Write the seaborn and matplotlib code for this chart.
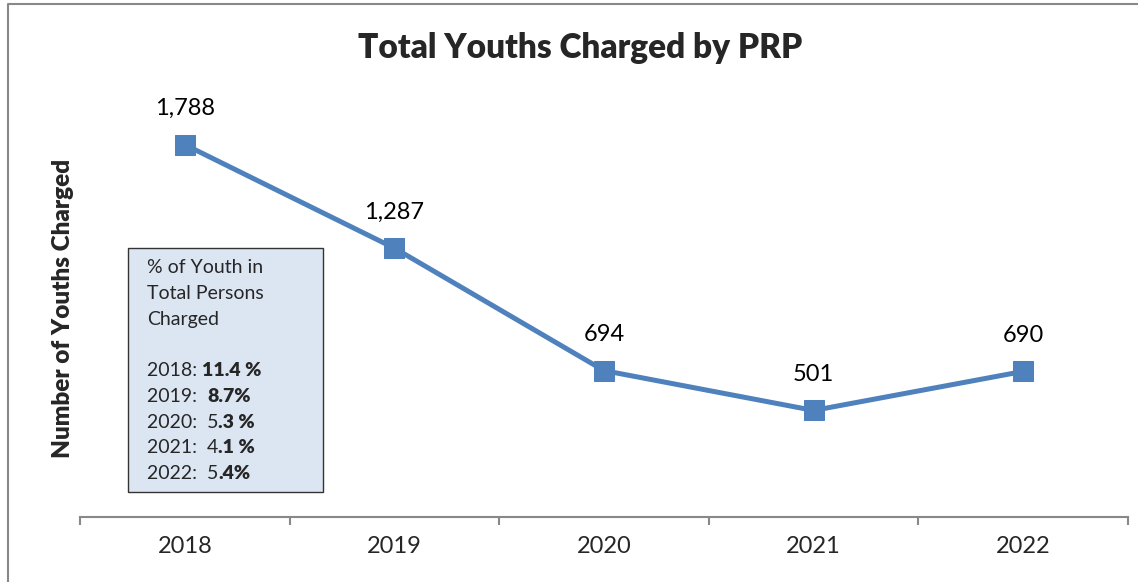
import matplotlib
matplotlib.use("Agg")
import matplotlib.pyplot as plt
import matplotlib.patches as patches
from matplotlib.lines import Line2D
from matplotlib.text import Annotation
from matplotlib.ticker import FixedLocator
import seaborn as sns
import pandas as pd

years = ["2018", "2019", "2020", "2021", "2022"]
youths_charged = [1788, 1287, 694, 501, 690]
label_texts = ["1,788", "1,287", "694", "501", "690"]

box_header = ["% of Youth in", "Total Persons", "Charged"]
box_years = ["2018: ", "2019:  ", "2020:  ", "2021:  ", "2022:  "]
box_plain = ["", "", "5", "4", "5"]
box_bold = ["11.4 %", "8.7%", ".3 %", ".1 %", ".4%"]

sns.set_style("white")
plt.rcParams["font.family"] = ["Lato", "DejaVu Sans"]

df = pd.DataFrame({"year": years, "count": youths_charged})

fig = plt.figure(figsize=(11.38, 5.82), dpi=100)
ax = fig.add_axes([80 / 1138, 65 / 582, 1048 / 1138, 413 / 582])

blue = "#4F81BD"
sns.lineplot(data=df, x="year", y="count", ax=ax, color=blue, linewidth=3.6,
             marker="s", markersize=14, markeredgecolor=blue, sort=False)

for i, (v, t) in enumerate(zip(youths_charged, label_texts)):
    ax.annotate(t, (i, v), xytext=(0, 26), textcoords="offset points",
                ha="center", va="center", fontsize=17, color="black")

ax.set_xlim(-0.5, 4.5)
ax.set_ylim(-15, 1985)
ax.set_yticks([])
ax.set_xlabel("")
ax.set_ylabel("")
for s in ["top", "right", "left"]:
    ax.spines[s].set_visible(False)
ax.spines["bottom"].set_color("#888888")
ax.spines["bottom"].set_linewidth(1.5)
ax.tick_params(axis="x", which="major", bottom=True, length=0, labelsize=17, pad=14)
ax.xaxis.set_minor_locator(FixedLocator([-0.5, 0.5, 1.5, 2.5, 3.5, 4.5]))
ax.tick_params(axis="x", which="minor", bottom=True, length=6, width=1.5,
               color="#888888", direction="out")

fig.text(580 / 1138, 1 - 48 / 582, "Total Youths Charged by PRP",
         ha="center", va="center", fontsize=24, fontweight="heavy")
fig.text(63 / 1138, 1 - 308 / 582, "Number of Youths Charged", rotation=90,
         ha="center", va="center", fontsize=17.5, fontweight="heavy")

# text box with percentages
box = patches.Rectangle((128 / 1138, 1 - 492 / 582), 195 / 1138, 244 / 582,
                        transform=fig.transFigure, facecolor="#DCE6F2",
                        edgecolor="#333333", linewidth=1, zorder=2)
fig.add_artist(box)
y0 = 268
step = 25.7
for i, h in enumerate(box_header):
    fig.text(147 / 1138, 1 - (y0 + i * step) / 582, h, fontsize=14,
             ha="left", va="center", zorder=3)
for i in range(len(box_years)):
    y = 1 - (y0 + (i + 4) * step) / 582
    prev = fig.text(147 / 1138, y, box_years[i] + box_plain[i], fontsize=14,
                    ha="left", va="center", zorder=3)
    bold_part = Annotation(box_bold[i], xy=(1, 0.5), xycoords=prev,
                           xytext=(0, 0), textcoords="offset points",
                           ha="left", va="center", fontsize=14,
                           fontweight="heavy", zorder=3)
    fig.add_artist(bold_part)

# outer frame of the chart area
fig.add_artist(Line2D([8 / 1138, 8 / 1138, 1.0], [0, 1 - 4 / 582, 1 - 4 / 582],
                      transform=fig.transFigure, color="#888888", linewidth=1.5))

fig.savefig("out.png", dpi=100)
